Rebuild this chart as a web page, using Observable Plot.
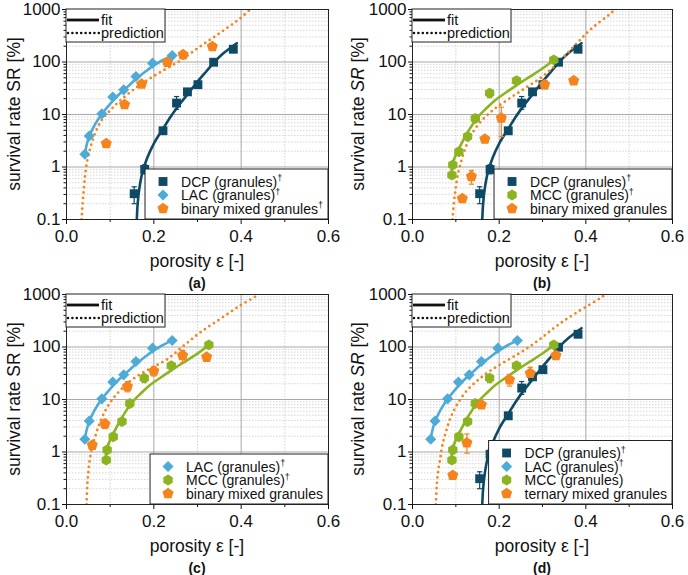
<!DOCTYPE html>
<html>
<head>
<meta charset="utf-8">
<script src="https://cdn.jsdelivr.net/npm/d3@7"></script>
<script src="https://cdn.jsdelivr.net/npm/@observablehq/plot@0.6"></script>
<style>
  body { margin: 0; background: #fff; }
  #figure { position: relative; width: 688px; height: 575px; font-family: "Liberation Sans", Arial, sans-serif; }
  #figure svg { position: absolute; overflow: visible; }
</style>
</head>
<body>
<div id="figure"></div>
<script>
// ---- measured survival rates SR [%] versus porosity ε [-] ----
const dcpPoints = [[0.155, 0.31], [0.179, 0.9], [0.221, 4.9], [0.252, 16.5], [0.277, 27], [0.301, 37], [0.337, 99], [0.382, 175]];
const lacPoints = [[0.042, 1.75], [0.052, 3.9], [0.081, 10.3], [0.106, 21.5], [0.131, 29.5], [0.159, 53], [0.197, 95], [0.242, 133]];
const mccPoints = [[0.091, 0.7], [0.093, 1.1], [0.107, 1.95], [0.127, 3.8], [0.145, 8.4], [0.178, 25.5], [0.24, 44], [0.326, 110]];
const binaryLacDcpPoints = [[0.091, 2.8], [0.133, 15.5], [0.172, 38], [0.231, 99], [0.267, 138], [0.334, 197]];
const binaryDcpMccPoints = [[0.115, 0.25], [0.136, 0.66], [0.167, 3.4], [0.205, 8.6], [0.305, 37], [0.372, 44]];
const binaryLacMccPoints = [[0.059, 1.35], [0.088, 3.4], [0.1395, 17.7], [0.2, 34.7], [0.266, 69], [0.321, 64]];
const ternaryPoints = [[0.093, 0.36], [0.1255, 1.5], [0.159, 7.9], [0.224, 23.7], [0.2716, 31.6], [0.331, 69]];

// ---- error bars: porosity, lower SR, upper SR ----
const dcpErrors = [[0.155, 0.2, 0.42], [0.179, 0.74, 1.1], [0.252, 12.5, 22]];
const mccErrors = [[0.178, 21, 30]];
const binaryDcpMccErrors = [[0.136, 0.47, 0.86], [0.205, 3.8, 13.8]];
const binaryLacMccErrors = [[0.088, 2.8, 4.2], [0.1395, 14, 22], [0.2, 28, 42], [0.266, 50, 86]];
const ternaryErrors = [[0.1255, 0.95, 2.2], [0.224, 18, 30], [0.2716, 26, 41]];

// ---- fitted curves of the single-component granules ----
const dcpFit = [[0.161, 0.1], [0.163, 0.2], [0.167, 0.4], [0.174, 0.8], [0.185, 1.5], [0.2, 2.8], [0.22, 5.2], [0.24, 9.5], [0.26, 16], [0.28, 26], [0.3, 42], [0.32, 66], [0.34, 103], [0.36, 148], [0.39, 228]];
const lacFit = [[0.042, 1.8], [0.047, 2.8], [0.052, 3.8], [0.065, 6.4], [0.081, 10.2], [0.1, 16], [0.12, 24], [0.14, 34], [0.16, 48], [0.18, 65], [0.2, 86], [0.22, 108], [0.243, 135]];
const mccFit = [[0.09, 0.85], [0.093, 1.2], [0.1, 1.7], [0.11, 2.5], [0.12, 3.6], [0.135, 5.8], [0.15, 8.8], [0.17, 13], [0.19, 18.5], [0.215, 26], [0.24, 36], [0.27, 52], [0.3, 75], [0.325, 108]];

// ---- predicted curves of the mixtures ----
const predictionA = [[0.0345, 0.1], [0.0368, 0.2], [0.04, 0.41], [0.043, 0.74], [0.0475, 1.33], [0.055, 2.4], [0.065, 4.3], [0.08, 7.7], [0.1, 12], [0.123, 18.5], [0.153, 29.5], [0.184, 44.5], [0.215, 64], [0.261, 107], [0.307, 200], [0.352, 360], [0.398, 680], [0.418, 960]];
const predictionB = [[0.0923, 0.1], [0.096, 0.23], [0.1, 0.41], [0.105, 0.74], [0.113, 1.33], [0.123, 2.4], [0.137, 4.3], [0.16, 7.7], [0.185, 12], [0.219, 19], [0.258, 31], [0.296, 50], [0.335, 95], [0.373, 200], [0.4115, 420], [0.458, 850], [0.464, 950]];
const predictionC = [[0.046, 0.1], [0.0475, 0.23], [0.05, 0.41], [0.0536, 0.74], [0.06, 1.33], [0.069, 2.4], [0.08, 4.3], [0.0958, 7.7], [0.119, 13.8], [0.153, 24.8], [0.19, 38], [0.23, 58], [0.268, 105], [0.3065, 190], [0.3525, 344], [0.398, 617], [0.437, 955]];
const predictionD = [[0.054, 0.1], [0.056, 0.23], [0.059, 0.42], [0.064, 0.75], [0.069, 1.35], [0.077, 2.4], [0.087, 4.3], [0.102, 7.8], [0.123, 14], [0.15, 23], [0.181, 36], [0.219, 56], [0.258, 87], [0.296, 145], [0.335, 260], [0.381, 465], [0.435, 870], [0.442, 960]];

// ---- axis ticks ----
const xMajorTicks = [0, 0.2, 0.4, 0.6];
const xMinorTicks = [0.1, 0.3, 0.5];
const xGridTicks = [0.2, 0.4];
const yMajorTicks = [0.1, 1, 10, 100, 1000];
const yGridTicks = [1, 10, 100];
const yMinorTicks = [];
for (const decade of [0.1, 1, 10, 100]) for (let k = 2; k <= 9; k++) yMinorTicks.push(+(k * decade).toPrecision(3));

// ---- colours ----
const colDCP = "#0e4a66";
const colLAC = "#4eaad6";
const colMCC = "#8cb421";
const colMix = "#f5841c";

// ---- marker shapes ----
function polygonSymbol(n, scale) {
  return {
    draw(ctx, size) {
      const R = Math.sqrt(size / Math.PI) * scale;
      for (let i = 0; i < n; i++) {
        const a = -Math.PI / 2 + (i * 2 * Math.PI) / n;
        const px = R * Math.cos(a), py = R * Math.sin(a);
        if (i === 0) ctx.moveTo(px, py); else ctx.lineTo(px, py);
      }
      ctx.closePath();
    }
  };
}
const symSquare = d3.symbolSquare;
const symDiamond = d3.symbolDiamond2;
const symHexagon = polygonSymbol(6, 1.08);
const symPentagon = polygonSymbol(5, 1.17);
const symCap = {
  draw(ctx, size) {
    const w = Math.sqrt(size / Math.PI);
    ctx.moveTo(-w, 0);
    ctx.lineTo(w, 0);
  }
};

const DCP = {name: "DCP (granules)", dagger: true, points: dcpPoints, errors: dcpErrors, fit: dcpFit, color: colDCP, symbol: symSquare};
const LAC = {name: "LAC (granules)", dagger: true, points: lacPoints, errors: [], fit: lacFit, color: colLAC, symbol: symDiamond};
const MCC = {name: "MCC (granules)", dagger: true, points: mccPoints, errors: mccErrors, fit: mccFit, color: colMCC, symbol: symHexagon};

const panels = [
  {tag: "(a)", left: 0, top: 0, marginLeft: 66, italicSR: false, prediction: predictionA,
   series: [DCP, LAC, {name: "binary mixed granules", dagger: true, points: binaryLacDcpPoints, errors: [], color: colMix, symbol: symPentagon}]},
  {tag: "(b)", left: 344, top: 0, marginLeft: 68, italicSR: true, prediction: predictionB,
   series: [DCP, MCC, {name: "binary mixed granules", dagger: false, points: binaryDcpMccPoints, errors: binaryDcpMccErrors, color: colMix, symbol: symPentagon}]},
  {tag: "(c)", left: 0, top: 285, marginLeft: 66, italicSR: false, prediction: predictionC,
   series: [LAC, MCC, {name: "binary mixed granules", dagger: false, points: binaryLacMccPoints, errors: binaryLacMccErrors, color: colMix, symbol: symPentagon}]},
  {tag: "(d)", left: 344, top: 285, marginLeft: 68, italicSR: true, prediction: predictionD,
   series: [DCP, LAC, {...MCC, dagger: false}, {name: "ternary mixed granules", dagger: false, points: ternaryPoints, errors: ternaryErrors, color: colMix, symbol: symPentagon}]}
];

const W = 344, H = 290, MT = 9, MR = 16, MB = 71;
const figure = document.getElementById("figure");

function drawPanel(p) {
  const marks = [
    Plot.ruleY(yMinorTicks, {stroke: "#cbcbcb", strokeWidth: 0.8, strokeDasharray: "1.5,1.5"}),
    Plot.ruleX(xMinorTicks, {stroke: "#cbcbcb", strokeWidth: 0.8, strokeDasharray: "1.5,1.5"}),
    Plot.ruleY(yGridTicks, {stroke: "#a8a8a8", strokeWidth: 1}),
    Plot.ruleX(xGridTicks, {stroke: "#a8a8a8", strokeWidth: 1})
  ];
  for (const s of p.series) {
    if (s.fit) marks.push(Plot.line(s.fit, {x: d => d[0], y: d => d[1], stroke: s.color, strokeWidth: 2.6, curve: "catmull-rom", clip: true}));
  }
  marks.push(Plot.line(p.prediction, {x: d => d[0], y: d => d[1], stroke: colMix, strokeWidth: 2.8, strokeDasharray: "0,5.4", strokeLinecap: "round", curve: "catmull-rom", clip: true}));
  for (const s of p.series) {
    if (s.errors.length) {
      marks.push(Plot.ruleX(s.errors, {x: d => d[0], y1: d => d[1], y2: d => d[2], stroke: s.color, strokeWidth: 1.2}));
      marks.push(Plot.dot(s.errors, {x: d => d[0], y: d => d[1], symbol: symCap, r: 2.6, stroke: s.color, strokeWidth: 1.2, fill: "none"}));
      marks.push(Plot.dot(s.errors, {x: d => d[0], y: d => d[2], symbol: symCap, r: 2.6, stroke: s.color, strokeWidth: 1.2, fill: "none"}));
    }
  }
  for (const s of p.series) {
    marks.push(Plot.dot(s.points, {x: d => d[0], y: d => d[1], symbol: s.symbol, r: 5, fill: s.color, stroke: "none"}));
  }
  marks.push(
    Plot.frame({stroke: "#222", strokeWidth: 1}),
    Plot.axisX({ticks: xMajorTicks, tickFormat: d3.format(".1f"), tickSize: 5, tickPadding: 5, label: null, fontSize: 17}),
    Plot.axisX({ticks: xMinorTicks, tickFormat: () => "", tickSize: 3, label: null}),
    Plot.axisY({ticks: yMajorTicks, tickFormat: d3.format("~g"), tickSize: 4, tickPadding: 2, label: null, fontSize: 17}),
    Plot.axisY({ticks: yMinorTicks, tickFormat: () => "", tickSize: 2.5, label: null})
  );

  const chart = Plot.plot({
    width: W, height: H,
    marginLeft: p.marginLeft, marginRight: MR, marginTop: MT, marginBottom: MB,
    x: {domain: [0, 0.6]},
    y: {type: "log", domain: [0.1, 1000]},
    style: {fontFamily: '"Liberation Sans", Arial, sans-serif', fontSize: "17px", color: "#111", background: "transparent"},
    marks
  });
  chart.style.left = p.left + "px";
  chart.style.top = p.top + "px";
  figure.appendChild(chart);

  const svg = d3.select(chart);
  const fl = p.marginLeft, fr = W - MR, ft = MT, fb = H - MB;
  const fc = (fl + fr) / 2;

  // axis titles and panel tag
  svg.append("text").attr("x", fc).attr("y", 267).attr("text-anchor", "middle")
    .attr("font-size", 17.5).attr("fill", "#111").text("porosity ε [-]");
  const yl = svg.append("text").attr("transform", `translate(19.5,${(ft + fb) / 2}) rotate(-90)`)
    .attr("text-anchor", "middle").attr("font-size", 17.5).attr("fill", "#111");
  yl.append("tspan").text("survival rate ");
  yl.append("tspan").attr("font-style", p.italicSR ? "italic" : "normal").text("SR");
  yl.append("tspan").text(" [%]");
  svg.append("text").attr("x", fc).attr("y", 288).attr("text-anchor", "middle")
    .attr("font-size", 14).attr("font-weight", "bold").attr("fill", "#111").text(p.tag);

  // line-style key (top left)
  const k = svg.append("g").attr("text-anchor", "start");
  k.append("rect").attr("x", fl).attr("y", ft).attr("width", 99).attr("height", 33)
    .attr("fill", "white").attr("stroke", "#222").attr("stroke-width", 1);
  k.append("line").attr("x1", fl + 1).attr("x2", fl + 33).attr("y1", ft + 11).attr("y2", ft + 11)
    .attr("stroke", "#111").attr("stroke-width", 2.8);
  k.append("line").attr("x1", fl + 2).attr("x2", fl + 33).attr("y1", ft + 24).attr("y2", ft + 24)
    .attr("stroke", "#111").attr("stroke-width", 2.6).attr("stroke-dasharray", "0,4.4").attr("stroke-linecap", "round");
  k.append("text").attr("x", fl + 35).attr("y", ft + 15.5).attr("font-size", 14.5).attr("fill", "#111").text("fit");
  k.append("text").attr("x", fl + 35).attr("y", ft + 28.5).attr("font-size", 14.5).attr("fill", "#111").text("prediction");

  // series key (bottom right)
  const n = p.series.length;
  const boxH = 13.5 * n + 9.5;
  const g = svg.append("g").attr("text-anchor", "start");
  const rect = g.append("rect");
  const texts = p.series.map((s) => {
    const t = g.append("text").attr("y", 0).attr("font-size", 14).attr("fill", "#111");
    t.append("tspan").text(s.name);
    if (s.dagger) t.append("tspan").attr("font-size", 9).attr("dy", "-0.6em").attr("fill", "#111").text("†");
    return t;
  });
  const maxW = d3.max(texts, t => t.node().getComputedTextLength());
  const boxW = maxW + 41;
  const bx = fr - boxW, by = fb - boxH;
  rect.attr("x", bx).attr("y", by).attr("width", boxW).attr("height", boxH)
    .attr("fill", "white").attr("stroke", "#222").attr("stroke-width", 1);
  p.series.forEach((s, i) => {
    const cy = by + 12.5 + 13.5 * i;
    g.append("path").attr("transform", `translate(${bx + 18},${cy})`)
      .attr("d", d3.symbol(s.symbol, Math.PI * 25)()).attr("fill", s.color);
    texts[i].attr("x", bx + 36).attr("y", cy + 5);
  });
}

panels.forEach(drawPanel);
</script>
</body>
</html>
